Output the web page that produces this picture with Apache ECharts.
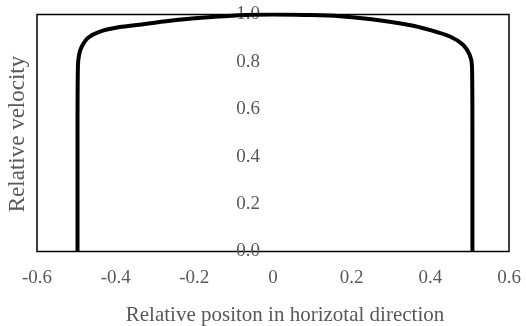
<!DOCTYPE html>
<html>
<head>
<meta charset="utf-8">
<script src="https://cdn.jsdelivr.net/npm/echarts@6/dist/echarts.min.js"></script>
<style>
  html, body { margin: 0; padding: 0; background: #fff; }
  #main { width: 526px; height: 326px; }
</style>
</head>
<body>
<div id="main"></div>
<script>
// 相对位置 / 相对速度
var xPos = [-0.497, -0.497, -0.496, -0.493, -0.486, -0.47, -0.44, -0.39, -0.34, -0.24, -0.15, -0.07, 0,
            0.08, 0.17, 0.25, 0.35, 0.40, 0.45, 0.483, 0.500, 0.506, 0.507, 0.507];
var velocity = [0, 0.5, 0.78, 0.83, 0.865, 0.902, 0.928, 0.947, 0.957, 0.978, 0.99, 0.998, 1.0,
                0.998, 0.993, 0.98, 0.955, 0.934, 0.907, 0.872, 0.83, 0.78, 0.5, 0];
var xTicks = [-0.6, -0.4, -0.2, 0, 0.2, 0.4, 0.6];
var yTicks = [0, 0.2, 0.4, 0.6, 0.8, 1.0];

var font = 'Liberation Serif';
var grey = '#595959';

var myChart = echarts.init(document.getElementById('main'));

var points = xPos.map(function (x, i) { return [x, velocity[i]]; });

var option = {
    animation: false,
    grid: {
        left: 37, right: 17, top: 14.5, bottom: 74.5,
        show: true,
        borderColor: '#000',
        borderWidth: 1.5
    },
    xAxis: {
        type: 'value',
        min: xTicks[0],
        max: xTicks[xTicks.length - 1],
        interval: 0.2,
        axisLine: { show: false, onZero: false },
        axisTick: { show: false },
        splitLine: { show: false },
        axisLabel: {
            margin: 17,
            fontFamily: font,
            fontSize: 19,
            color: grey,
            formatter: function (v) { return Math.abs(v) < 1e-9 ? '0' : (+v.toFixed(1)).toString(); }
        }
    },
    yAxis: {
        type: 'value',
        min: yTicks[0],
        max: yTicks[yTicks.length - 1],
        interval: 0.2,
        offset: -236,   // y 轴画在 x = 0 处
        axisLine: { show: false, onZero: false },
        axisTick: { show: false },
        splitLine: { show: false },
        axisLabel: {
            margin: 13,
            fontFamily: font,
            fontSize: 19,
            color: grey,
            formatter: function (v) { return v.toFixed(1); }
        }
    },
    graphic: [
        {
            type: 'text',
            x: 285, y: 315,
            style: {
                text: 'Relative positon in horizotal direction',
                font: '21px "Liberation Serif"',
                fill: grey,
                align: 'center',
                verticalAlign: 'middle'
            }
        },
        {
            type: 'text',
            x: 18, y: 134,
            rotation: Math.PI / 2,
            style: {
                text: 'Relative velocity',
                font: '23px "Liberation Serif"',
                fill: grey,
                align: 'center',
                verticalAlign: 'middle'
            }
        }
    ],
    series: [{
        type: 'line',
        data: points,
        smooth: 0.3,
        symbol: 'none',
        lineStyle: { color: '#000', width: 4 },
        z: 1
    }]
};
myChart.setOption(option);
</script>
</body>
</html>
